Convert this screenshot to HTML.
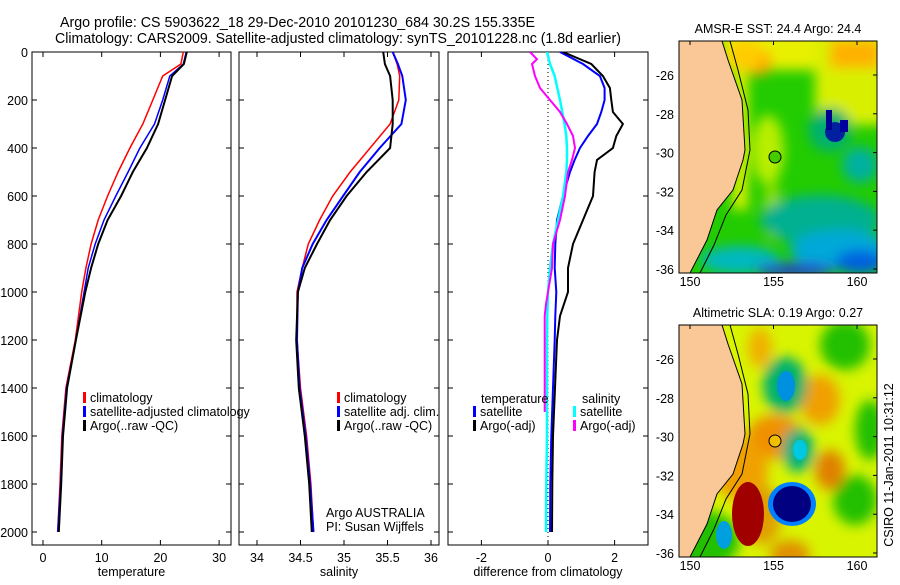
<!DOCTYPE html>
<html><head><meta charset="utf-8">
<style>
body{margin:0;background:#fff;}
svg text{font-family:"Liberation Sans",sans-serif;font-size:12.5px;fill:#000;}
</style></head>
<body>
<svg id="fig" width="900" height="580" xmlns="http://www.w3.org/2000/svg">
<defs>
<clipPath id="cp1"><rect x="32" y="52" width="199" height="493"/></clipPath>
<clipPath id="cp2"><rect x="239" y="52" width="200" height="493"/></clipPath>
<clipPath id="cp3"><rect x="448" y="52" width="200" height="493"/></clipPath>
<clipPath id="cm1"><rect x="679" y="41" width="198" height="232"/></clipPath>
<clipPath id="cm2"><rect x="679" y="325" width="198" height="232"/></clipPath>
<filter id="bl" x="-20%" y="-20%" width="140%" height="140%"><feGaussianBlur stdDeviation="6"/></filter>
</defs>
<text x="60" y="27" textLength="475" lengthAdjust="spacingAndGlyphs" style="font-size:14.3px">Argo profile: CS 5903622_18 29-Dec-2010 20101230_684 30.2S 155.335E</text>
<text x="55" y="43" textLength="566" lengthAdjust="spacingAndGlyphs" style="font-size:14.3px">Climatology: CARS2009. Satellite-adjusted climatology: synTS_20101228.nc (1.8d earlier)</text>

<!-- Map 1 -->
<g clip-path="url(#cm1)">
<rect x="679" y="41" width="198" height="232" fill="#22cc00"/>
<g filter="url(#bl)">
<rect x="720" y="30" width="170" height="40" fill="#e8f000"/>
<rect x="815" y="30" width="75" height="95" fill="#d8f000"/>
<rect x="830" y="40" width="50" height="28" fill="#ffb000"/>
<ellipse cx="758" cy="62" rx="14" ry="14" fill="#ffa800"/>
<ellipse cx="745" cy="55" rx="18" ry="16" fill="#ffcc00"/>
<ellipse cx="768" cy="150" rx="16" ry="35" fill="#b8ee00"/>
<rect x="732" y="70" width="16" height="140" fill="#d8f000"/>
<ellipse cx="772" cy="210" rx="8" ry="30" fill="#99e000"/>
<ellipse cx="830" cy="130" rx="22" ry="22" fill="#00b070"/>
<ellipse cx="860" cy="165" rx="18" ry="18" fill="#00b0a0"/>
<ellipse cx="820" cy="220" rx="60" ry="25" fill="#00b090"/>
<ellipse cx="840" cy="250" rx="50" ry="20" fill="#00a8d8"/>
<ellipse cx="860" cy="262" rx="25" ry="12" fill="#0060e0"/>
<ellipse cx="740" cy="260" rx="40" ry="14" fill="#00b8c0"/>
<ellipse cx="795" cy="270" rx="40" ry="7" fill="#2040d0"/>
</g>
<ellipse cx="835" cy="132" rx="10" ry="10" fill="#0020a0"/>
<rect x="826" y="110" width="6" height="20" fill="#000090"/>
<rect x="840" y="120" width="8" height="12" fill="#0000a0"/>
<polygon points="679,41 722,41 728,60 742,100 745,150 743,160 733,190 717,210 707,240 690,273 679,273" fill="#f9c896" stroke="#000" stroke-width="1"/>
<polyline points="730,41 738,70 748,110 750,150 742,190 726,215 714,245 700,273" fill="none" stroke="#000" stroke-width="1"/>
<circle cx="775" cy="157" r="6" fill="#44cc00" stroke="#000" stroke-width="1"/>
</g>
<rect x="679" y="41" width="198" height="232" fill="none" stroke="#000"/>
<text x="778" y="33" text-anchor="middle">AMSR-E SST: 24.4 Argo: 24.4</text>

<!-- Map 2 -->
<g clip-path="url(#cm2)">
<rect x="679" y="325" width="198" height="232" fill="#d8f400"/>
<g filter="url(#bl)">
<ellipse cx="845" cy="345" rx="25" ry="25" fill="#22c000"/>
<ellipse cx="870" cy="430" rx="15" ry="30" fill="#22c000"/>
<ellipse cx="855" cy="500" rx="22" ry="25" fill="#22c000"/>
<ellipse cx="760" cy="348" rx="12" ry="20" fill="#f0b000"/>
<ellipse cx="820" cy="400" rx="20" ry="25" fill="#f0a000"/>
<ellipse cx="775" cy="437" rx="28" ry="22" fill="#f09000"/>
<ellipse cx="830" cy="470" rx="15" ry="20" fill="#e08000"/>
<ellipse cx="790" cy="555" rx="20" ry="15" fill="#e09000"/>
<ellipse cx="785" cy="385" rx="22" ry="28" fill="#00b070"/>
<ellipse cx="798" cy="450" rx="16" ry="22" fill="#00b080"/>
<ellipse cx="740" cy="470" rx="28" ry="30" fill="#f0a000"/>
<ellipse cx="700" cy="540" rx="40" ry="30" fill="#22c000"/>
<ellipse cx="762" cy="515" rx="20" ry="30" fill="#e0a000"/>
</g>
<ellipse cx="786" cy="386" rx="9" ry="15" fill="#0090e0"/>
<ellipse cx="800" cy="450" rx="7" ry="10" fill="#00c8e0"/>
<ellipse cx="748" cy="514" rx="16" ry="32" fill="#a00000"/>
<ellipse cx="792" cy="504" rx="24" ry="22" fill="#0080ff"/>
<ellipse cx="792" cy="504" rx="19" ry="18" fill="#000080"/>
<ellipse cx="724" cy="535" rx="8" ry="14" fill="#00a0e0"/>
<polygon points="679,325 722,325 728,344 742,384 745,434 743,444 733,474 717,494 707,524 690,557 679,557" fill="#f9c896" stroke="#000" stroke-width="1"/>
<polyline points="730,325 738,354 748,394 750,434 742,474 726,499 714,529 700,557" fill="none" stroke="#000" stroke-width="1"/>
<circle cx="775" cy="441" r="6" fill="#f0c000" stroke="#000" stroke-width="1"/>
</g>
<rect x="679" y="325" width="198" height="232" fill="none" stroke="#000"/>
<text x="778" y="317" text-anchor="middle">Altimetric SLA: 0.19 Argo: 0.27</text>
<text transform="translate(893,465) rotate(-90)" text-anchor="middle">CSIRO 11-Jan-2011 10:31:12</text>
<g id="axes"></g>
</svg>
<script>
// ---- data ----
const tDepth=[0,50,100,200,300,400,500,600,700,800,900,1000,1200,1400,1600,1800,2000];
const tClim=[23.9,23.5,20.4,18.7,17,14.8,12.8,11,9.4,8.2,7.3,6.6,5.5,3.9,3.2,2.9,2.5];
const tSat=[24.4,23.9,21.6,20.4,19,16.5,14.5,12.4,10.4,8.9,7.7,7.0,5.6,4.0,3.3,3.0,2.5];
const tArgo=[24.5,24.0,22,20.8,19.6,17.7,15.3,13.3,11,9.4,8.2,7.2,5.6,4.1,3.4,3.1,2.7];
const sClim=[35.56,35.61,35.64,35.63,35.53,35.30,35.07,34.87,34.72,34.59,34.52,34.46,34.46,34.50,34.57,34.62,34.65];
const sSat=[35.56,35.62,35.67,35.71,35.66,35.41,35.18,34.99,34.80,34.64,34.52,34.47,34.46,34.49,34.56,34.61,34.65];
const sArgo=[35.45,35.47,35.53,35.56,35.56,35.53,35.26,35.03,34.84,34.69,34.55,34.47,34.45,34.48,34.55,34.60,34.63];
const dDepth=[0,50,100,150,200,250,300,350,400,450,500,600,700,800,900,1000,1100,1200,1400,1600,1800,2000];
const dTSat=[0.36,1.05,1.56,1.7,1.7,1.6,1.47,1.2,0.96,0.8,0.66,0.45,0.27,0.22,0.2,0.25,0.22,0.2,0.15,0.1,0.07,0.06];
const dTArgo=[0.45,1.3,1.65,1.86,1.9,1.95,2.25,2.05,1.95,1.47,1.4,1.35,1.05,0.75,0.6,0.6,0.36,0.27,0.21,0.15,0.13,0.12];
const dSSat=[-0.03,0.06,0.2,0.28,0.36,0.43,0.5,0.55,0.57,0.57,0.55,0.45,0.3,0.15,0.06,0,-0.02,-0.03,-0.03,-0.03,-0.05,-0.06];
const mDepth=[0,30,50,100,150,200,250,300,350,400,450,500,600,700,800,900,1000,1050,1100,1300,1500];
const dSArgo=[-0.54,-0.33,-0.48,-0.39,-0.24,0.06,0.36,0.57,0.75,0.81,0.72,0.6,0.51,0.36,0.15,0.12,0,-0.06,-0.1,-0.1,-0.1];
const depthTicks=[0,200,400,600,800,1000,1200,1400,1600,1800,2000];
const tTicks=[0,10,20,30];
const sTicks=[34,34.5,35,35.5,36];
const dTicks=[-2,0,2];
const lonTicks=[150,155,160];
const latTicks=[-26,-28,-30,-32,-34,-36];
// ---- scales ----
const yD=d=>52+d*0.24;
const xT=t=>43+t*5.87;
const xS=s=>257+(s-34)*87;
const xDf=v=>548+v*33.3;
const xLon=l=>690+(l-150)*16.7;
const yLat=(l,off)=>75+off+(-26-l)*19.4;
const NS='http://www.w3.org/2000/svg';
const root=document.getElementById('axes');
function mk(tag,attrs,parent){const e=document.createElementNS(NS,tag);for(const k in attrs)e.setAttribute(k,attrs[k]);(parent||root).appendChild(e);return e;}
function txt(x,y,s,anchor){const e=mk('text',{x:x,y:y,'text-anchor':anchor||'start'});e.textContent=s;return e;}
function series(xs,ds,xf,color,w,clip,name){
  const pts=xs.map((v,i)=>xf(v).toFixed(1)+','+yD(ds[i]).toFixed(1)).join(' ');
  const p=mk('polyline',{points:pts,fill:'none',stroke:color,'stroke-width':w,'clip-path':'url(#'+clip+')'});
  
  
}
function panel(x0,x1,ticks,xf,fmt,label,name,showY){
  const g=mk('rect',{x:x0,y:52,width:x1-x0,height:493,fill:'none',stroke:'#000'});
  
  
  ticks.forEach(t=>{const x=xf(t);
    mk('line',{x1:x,y1:52,x2:x,y2:57,stroke:'#000'});
    mk('line',{x1:x,y1:545,x2:x,y2:540,stroke:'#000'});
    const l=txt(x,562,fmt(t),'middle');
    
    
  });
  depthTicks.forEach(d=>{const y=yD(d);
    mk('line',{x1:x0,y1:y,x2:x0+5,y2:y,stroke:'#000'});
    mk('line',{x1:x1,y1:y,x2:x1-5,y2:y,stroke:'#000'});
    if(showY){const l=txt(28,y+5,String(d),'end');
      
      }
  });
  const al=txt((x0+x1)/2,576,label,'middle');
  
  
}
panel(32,231,tTicks,xT,String,'temperature','temperature-panel',true);
panel(239,439,sTicks,xS,String,'salinity','salinity-panel',false);
panel(448,648,dTicks,xDf,String,'difference from climatology','difference-panel',false);
const z=mk('line',{x1:xDf(0),y1:52,x2:xDf(0),y2:545,stroke:'#000','stroke-dasharray':'1,3'});


series(tClim,tDepth,xT,'#ff0000',1.5,'cp1','temperature-climatology-line');
series(tSat,tDepth,xT,'#0000ff',1.5,'cp1','temperature-satellite-line');
series(tArgo,tDepth,xT,'#000',2,'cp1','temperature-argo-line');
series(sClim,tDepth,xS,'#ff0000',1.5,'cp2','salinity-climatology-line');
series(sSat,tDepth,xS,'#0000ff',2,'cp2','salinity-satellite-line');
series(sArgo,tDepth,xS,'#000',2,'cp2','salinity-argo-line');
series(dTSat,dDepth,xDf,'#0000ff',2,'cp3','temp-satellite-diff-line');
series(dTArgo,dDepth,xDf,'#000',2,'cp3','temp-argo-diff-line');
series(dSSat,dDepth,xDf,'#00ffff',2.5,'cp3','sal-satellite-diff-line');
series(dSArgo,mDepth,xDf,'#ff00ff',2,'cp3','sal-argo-diff-line');
function leg(x,y,color,label,name){
  const b=mk('rect',{x:x,y:y-10,width:3,height:11,fill:color});
  
  
  const t=txt(x+7,y,label);
  
  
}
leg(83,402,'#ff0000','climatology','legend-climatology');
leg(83,416,'#0000ff','satellite-adjusted climatology','legend-satellite-adjusted');
leg(83,430,'#000','Argo(..raw -QC)','legend-argo');
leg(337,402,'#ff0000','climatology','legend-sal-climatology');
leg(337,416,'#0000ff','satellite adj. clim.','legend-sal-satellite');
leg(337,430,'#000','Argo(..raw -QC)','legend-sal-argo');
const a1=txt(326,517,'Argo AUSTRALIA');
const a2=txt(326,531,'PI: Susan Wijffels');
const h1=txt(481,403,'temperature');
const h2=txt(582,403,'salinity');
leg(473,416,'#0000ff','satellite','legend-temp-satellite');
leg(473,430,'#000','Argo(-adj)','legend-temp-argo');
leg(573,416,'#00ffff','satellite','legend-sal-sat-diff');
leg(573,430,'#ff00ff','Argo(-adj)','legend-sal-argo-diff');
[[0,286],[284,570]].forEach(([off,ly])=>{
  lonTicks.forEach(l=>{const x=xLon(l);
    mk('line',{x1:x,y1:41+off,x2:x,y2:45+off,stroke:'#000'});
    const t=txt(x,ly,String(l),'middle');
    
    
  });
  latTicks.forEach(l=>{const y=yLat(l,off);
    mk('line',{x1:877,y1:y,x2:873,y2:y,stroke:'#000'});
    const t=txt(674,y+5,String(l),'end');
    
    
  });
});
</script>
</body></html>
